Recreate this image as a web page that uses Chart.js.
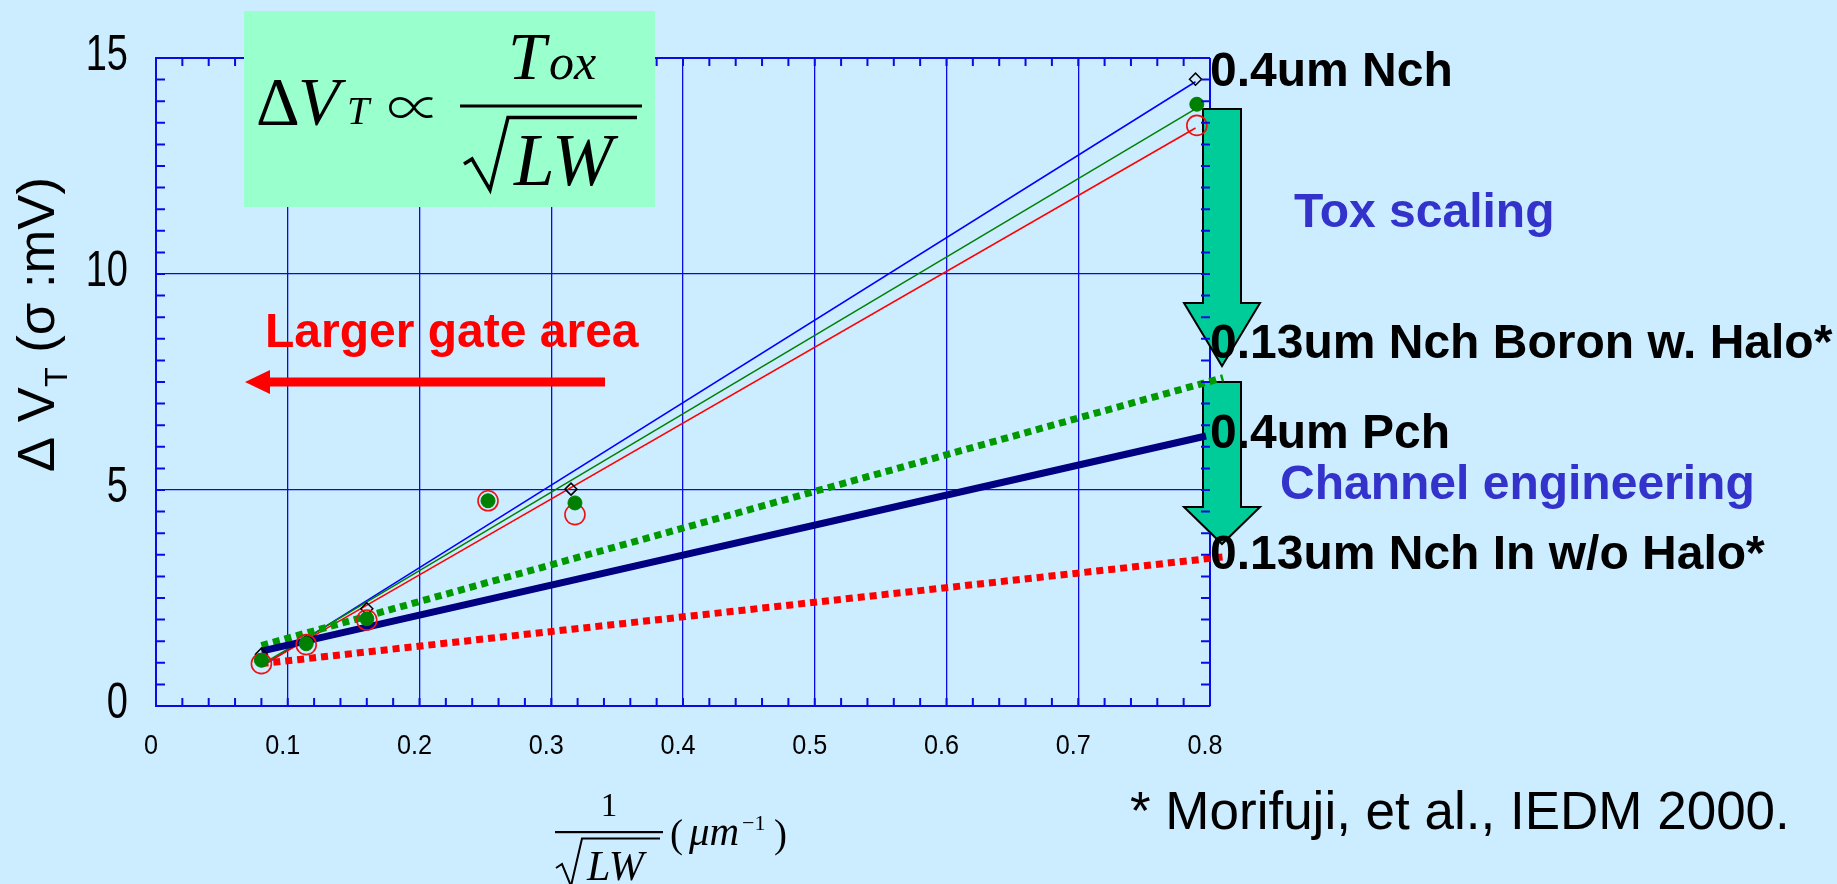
<!DOCTYPE html>
<html>
<head>
<meta charset="utf-8">
<script src="https://cdn.jsdelivr.net/npm/chart.js@4.4.1/dist/chart.umd.min.js"></script>
<style>
html,body{margin:0;padding:0;background:#CCECFF;overflow:hidden;}
canvas{display:block;}
</style>
</head>
<body>
<canvas id="c" width="1837" height="884"></canvas>
<script>
// ---------------- data ----------------
const xTickValues = [0, 0.1, 0.2, 0.3, 0.4, 0.5, 0.6, 0.7, 0.8];
const xTickLabels = ['0', '0.1', '0.2', '0.3', '0.4', '0.5', '0.6', '0.7', '0.8'];
const yTickValues = [0, 5, 10, 15];
const yTickLabels = ['0', '5', '10', '15'];

// measured points (0.4um Nch device family)
const diamondX = [0.080, 0.114, 0.160, 0.315, 0.789];
const diamondY = [1.20, 1.50, 2.25, 5.02, 14.51];
const greenDotX = [0.080, 0.114, 0.160, 0.252, 0.318, 0.790];
const greenDotY = [1.06, 1.44, 2.02, 4.75, 4.70, 13.93];
const redCircleX = [0.080, 0.114, 0.160, 0.252, 0.318, 0.790];
const redCircleY = [0.98, 1.42, 1.99, 4.75, 4.43, 13.44];

// thin fit lines
const fitX = [0.080, 0.789];
const fitBlueY = [0.91, 14.45];
const fitGreenY = [0.96, 13.82];
const fitRedY = [0.93, 13.38];

// thick trend lines
const boronHaloX = [0.080, 0.810];
const boronHaloY = [1.40, 7.60];
const pchX = [0.080, 0.797];
const pchY = [1.27, 6.25];
const inNoHaloX = [0.080, 0.810];
const inNoHaloY = [0.98, 3.45];

// ---------------- helpers ----------------
const SANS = '"Liberation Sans", Arial, sans-serif';
const SERIF = '"Liberation Serif", "Times New Roman", "DejaVu Serif", serif';
const GRID = '#0A0AE6';
const pts = (xs, ys) => xs.map((x, i) => ({x: x, y: ys[i]}));

// linear scale whose tick labels are horizontally condensed (like the original narrow digits)
class CondensedLinearScale extends Chart.LinearScale {
  drawLabels(area) {
    const ctx = this.ctx;
    const sx = this.options.condense || 1;
    const origRotate = ctx.rotate;
    ctx.rotate = function (r) { origRotate.call(ctx, r); ctx.scale(sx, 1); };
    try { super.drawLabels(area); } finally { ctx.rotate = origRotate; }
  }
}
CondensedLinearScale.id = 'condensedLinear';
CondensedLinearScale.defaults = Chart.LinearScale.defaults;
Chart.register(CondensedLinearScale);

function txt(c, s, x, y, font, color, align) {
  c.font = font; c.fillStyle = color; c.textAlign = align || 'left';
  c.textBaseline = 'alphabetic'; c.fillText(s, x, y);
  return c.measureText(s).width;
}
function blockArrow(c, sx0, sx1, top, headY, hx0, hx1, tipY) {
  const mid = (hx0 + hx1) / 2;
  c.beginPath();
  c.moveTo(sx0, top); c.lineTo(sx1, top); c.lineTo(sx1, headY); c.lineTo(hx1, headY);
  c.lineTo(mid, tipY); c.lineTo(hx0, headY); c.lineTo(sx0, headY); c.closePath();
  c.fillStyle = '#00CC99'; c.fill();
  c.lineWidth = 2; c.strokeStyle = '#000'; c.lineJoin = 'miter'; c.stroke();
}

const overlay = {
  id: 'overlay',
  beforeDatasetsDraw(chart) {
    const c = chart.ctx;
    c.save();
    blockArrow(c, 1203, 1241, 109, 303, 1184, 1260, 366);
    blockArrow(c, 1203, 1241, 382, 507, 1184, 1260, 544);
    c.restore();
  },
  afterDraw(chart) {
    const c = chart.ctx, a = chart.chartArea, xs = chart.scales.x, ys = chart.scales.y;
    c.save();
    // inward minor ticks on all four sides
    c.strokeStyle = GRID; c.lineWidth = 2;
    c.beginPath();
    for (let k = 0; k <= 40; k++) {
      const px = xs.getPixelForValue(k * 0.02);
      c.moveTo(px, a.bottom); c.lineTo(px, a.bottom - 8);
      c.moveTo(px, a.top); c.lineTo(px, a.top + 8);
    }
    for (let k = 0; k <= 30; k++) {
      const py = ys.getPixelForValue(k * 0.5);
      c.moveTo(a.left, py); c.lineTo(a.left + 9, py);
      c.moveTo(a.right, py); c.lineTo(a.right - 9, py);
    }
    c.stroke();

    // formula box
    c.fillStyle = '#99FFCC';
    c.fillRect(244, 11, 411, 196);
    txt(c, 'Δ', 256, 124, '68px ' + SERIF, '#000');
    txt(c, 'V', 298, 124, 'italic 68px ' + SERIF, '#000');
    txt(c, 'T', 347, 124, 'italic 40px ' + SERIF, '#000');
    txt(c, '∝', 414, 128, '300 54px "Noto Sans CJK JP", ' + SERIF, '#000', 'center');
    txt(c, 'T', 508, 79, 'italic 68px ' + SERIF, '#000');
    txt(c, 'ox', 549, 79, 'italic 50px ' + SERIF, '#000');
    c.fillStyle = '#000';
    c.fillRect(460, 104.5, 182, 3);
    c.beginPath();
    c.lineWidth = 3.5; c.strokeStyle = '#000'; c.lineJoin = 'miter';
    c.moveTo(464, 164); c.lineTo(472, 159); c.lineTo(490, 190); c.lineTo(508, 117.5); c.lineTo(637, 117.5);
    c.stroke();
    txt(c, 'LW', 514, 185, 'italic 73px ' + SERIF, '#000');

    // red "Larger gate area" arrow + text
    c.fillStyle = '#FF0000';
    c.beginPath();
    c.moveTo(245, 382); c.lineTo(270, 370); c.lineTo(270, 377.5); c.lineTo(605, 377.5);
    c.lineTo(605, 386.5); c.lineTo(270, 386.5); c.lineTo(270, 394); c.closePath();
    c.fill();
    txt(c, 'Larger gate area', 265, 347, 'bold 48px ' + SANS, '#FF0000');

    // series labels
    const lab = 'bold 48px ' + SANS;
    txt(c, '0.4um Nch', 1210, 86, lab, '#000');
    txt(c, 'Tox scaling', 1294, 227, lab, '#3333CC');
    txt(c, '0.13um Nch Boron w. Halo*', 1210, 358, lab, '#000');
    txt(c, '0.4um Pch', 1210, 448, lab, '#000');
    txt(c, 'Channel engineering', 1280, 499, lab, '#3333CC');
    txt(c, '0.13um Nch In w/o Halo*', 1210, 569, lab, '#000');

    // reference note
    txt(c, '* Morifuji, et al., IEDM 2000.', 1130, 829, '53px ' + SANS, '#000');

    // x axis title: 1/sqrt(LW) (um^-1)
    txt(c, '1', 609, 816, '33px ' + SERIF, '#000', 'center');
    c.fillStyle = '#000';
    c.fillRect(555, 831, 108, 2.2);
    c.beginPath(); c.lineWidth = 2;
    c.moveTo(556, 868); c.lineTo(562, 864); c.lineTo(571, 886); c.lineTo(582, 838.5); c.lineTo(660, 838.5);
    c.stroke();
    txt(c, 'LW', 587, 880, 'italic 42px ' + SERIF, '#000');
    txt(c, '(', 670, 847, '39px ' + SERIF, '#000');
    txt(c, 'μm', 689, 845, 'italic 41px ' + SERIF, '#000');
    txt(c, '−1', 742, 830, '22px ' + SERIF, '#000');
    txt(c, ')', 774, 847, '39px ' + SERIF, '#000');

    // y axis title: Δ V_T (σ :mV), rotated
    c.translate(54, 324.5);
    c.rotate(-Math.PI / 2);
    const f1 = '52px ' + SANS, f2 = '32px ' + SANS;
    c.font = f1; const w1 = c.measureText('Δ V').width; const w3 = c.measureText(' (σ :mV)').width;
    c.font = f2; const w2 = c.measureText('T').width;
    const total = w1 + w2 + w3;
    c.scale(295 / total, 1);
    const x0 = -total / 2;
    txt(c, 'Δ V', x0, 0, f1, '#000');
    txt(c, 'T', x0 + w1, 13, f2, '#000');
    txt(c, ' (σ :mV)', x0 + w1 + w2, 0, f1, '#000');
    c.restore();
  }
};

new Chart(document.getElementById('c'), {
  type: 'scatter',
  data: {
    datasets: [
      {label: 'markers green', data: pts(greenDotX, greenDotY), pointStyle: 'circle', pointRadius: 7,
        backgroundColor: '#008000', borderColor: '#008000', borderWidth: 1, showLine: false, order: 1},
      {label: 'markers red', data: pts(redCircleX, redCircleY), pointStyle: 'circle', pointRadius: 10,
        backgroundColor: 'rgba(0,0,0,0)', borderColor: '#EE1111', borderWidth: 1.6, showLine: false, order: 2},
      {label: 'markers diamond', data: pts(diamondX, diamondY), pointStyle: 'rectRot', pointRadius: 6,
        backgroundColor: 'rgba(0,0,0,0)', borderColor: '#000', borderWidth: 1.5, showLine: false, order: 3},
      {label: '0.13um Nch In w/o Halo*', data: pts(inNoHaloX, inNoHaloY), showLine: true, pointRadius: 0,
        borderColor: '#FF0000', borderWidth: 7, borderDash: [7, 5], borderCapStyle: 'butt', clip: false, order: 4},
      {label: '0.4um Pch', data: pts(pchX, pchY), showLine: true, pointRadius: 0,
        borderColor: '#000080', borderWidth: 7, borderCapStyle: 'butt', clip: false, order: 5},
      {label: '0.13um Nch Boron w. Halo*', data: pts(boronHaloX, boronHaloY), showLine: true, pointRadius: 0,
        borderColor: '#009900', borderWidth: 7, borderDash: [7, 5], borderCapStyle: 'butt', clip: false, order: 6},
      {label: 'fit red', data: pts(fitX, fitRedY), showLine: true, pointRadius: 0,
        borderColor: '#FF0000', borderWidth: 1.5, order: 7},
      {label: 'fit green', data: pts(fitX, fitGreenY), showLine: true, pointRadius: 0,
        borderColor: '#008000', borderWidth: 1.5, order: 8},
      {label: '0.4um Nch', data: pts(fitX, fitBlueY), showLine: true, pointRadius: 0,
        borderColor: '#0000FF', borderWidth: 1.5, order: 9}
    ]
  },
  options: {
    responsive: false,
    animation: false,
    devicePixelRatio: 1,
    layout: {padding: {left: 0, top: 54, right: 627, bottom: 0}},
    plugins: {legend: {display: false}, tooltip: {enabled: false}},
    scales: {
      x: {
        type: 'condensedLinear', min: 0, max: 0.8, condense: 0.9,
        afterFit(s) { s.height = 178; },
        afterBuildTicks(s) { s.ticks = xTickValues.map(v => ({value: v})); },
        ticks: {
          callback: (v, i) => xTickLabels[i],
          font: {family: SANS, size: 28}, color: '#000', padding: 23, labelOffset: -5,
          maxRotation: 0, autoSkip: false
        },
        grid: {color: GRID, lineWidth: (ctx) => (ctx.index === xTickValues.length - 1 ? 2 : 1.3), drawTicks: false},
        border: {color: GRID, width: 2}
      },
      y: {
        type: 'condensedLinear', min: 0, max: 15, condense: 0.76,
        afterFit(s) { s.width = 156; },
        afterBuildTicks(s) { s.ticks = yTickValues.map(v => ({value: v})); },
        ticks: {
          callback: (v, i) => yTickLabels[i],
          font: {family: SANS, size: 50}, color: '#000', padding: 28, labelOffset: -2, autoSkip: false
        },
        grid: {color: GRID, lineWidth: (ctx) => (ctx.index === yTickValues.length - 1 ? 2 : 1.3), drawTicks: false},
        border: {color: GRID, width: 2}
      }
    }
  },
  plugins: [overlay]
});
</script>
</body>
</html>
